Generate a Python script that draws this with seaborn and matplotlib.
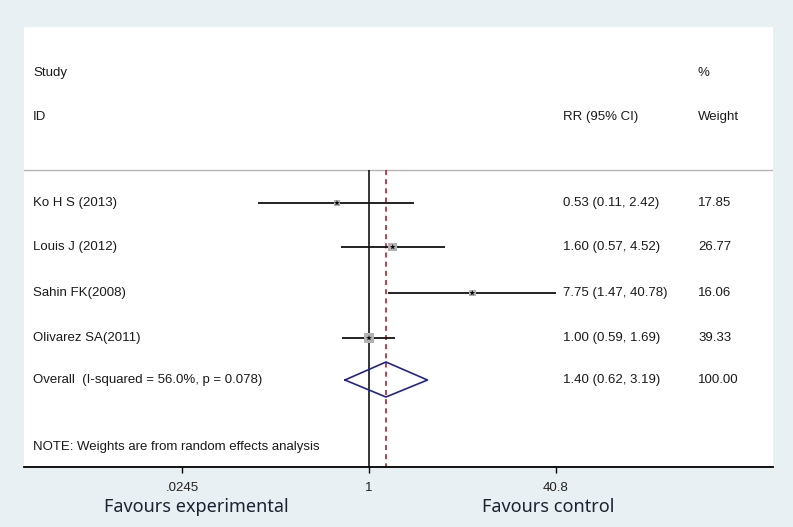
import numpy as np
import matplotlib
matplotlib.use("Agg")
import matplotlib.pyplot as plt
import matplotlib.ticker as mticker
import seaborn as sns

# data
studies = ["Ko H S (2013)", "Louis J (2012)", "Sahin FK(2008)", "Olivarez SA(2011)"]
rr = [0.53, 1.60, 7.75, 1.00]
ci_low = [0.11, 0.57, 1.47, 0.59]
ci_high = [2.42, 4.52, 40.78, 1.69]
weights = [17.85, 26.77, 16.06, 39.33]

overall_label = "Overall  (I-squared = 56.0%, p = 0.078)"
overall_rr = 1.40
overall_low = 0.62
overall_high = 3.19
overall_weight = 100.00

tick_vals = [0.0245, 1, 40.8]
tick_labels = [".0245", "1", "40.8"]

# layout (rows measured from the top of the figure, in pixels)
row_y = [203, 247, 293, 338]
overall_y = 380
note_y = 447
sep_y = 170
axis_y = 467
top_y = 27

sns.set_theme(style="white")
plt.rcParams["font.family"] = ["Liberation Sans", "DejaVu Sans"]

bg = "#e9f0f3"
fig = plt.figure(figsize=(7.93, 5.27), dpi=100, facecolor=bg)
W, H = 793, 527
ax = fig.add_axes([24 / W, (H - axis_y) / H, (773 - 24) / W, (axis_y - top_y) / H])
ax.set_facecolor("white")

px_per_ln = 187 / np.log(40.8)
ax.set_xscale("log")
ax.set_xlim(np.exp((24 - 369) / px_per_ln), np.exp((773 - 369) / px_per_ln))
ax.set_ylim(axis_y, top_y)

for side in ["top", "left", "right"]:
    ax.spines[side].set_visible(False)
ax.spines["bottom"].set_color("black")
ax.spines["bottom"].set_linewidth(1.3)

ax.xaxis.set_major_locator(mticker.FixedLocator(tick_vals))
ax.xaxis.set_major_formatter(mticker.FixedFormatter(tick_labels))
ax.xaxis.set_minor_locator(mticker.NullLocator())
ax.tick_params(axis="x", bottom=True, length=4, width=1, color="black",
               labelsize=9.5, pad=7, labelcolor="#222222")
ax.set_yticks([])

# reference lines
ax.axhline(sep_y, color="#b5b5b5", lw=1)
ax.vlines(1, sep_y, axis_y, color="black", lw=1.1)
ax.vlines(overall_rr, sep_y, axis_y, color="#b2222a", lw=1.2, linestyles=(0, (3, 2.5)))

# study CIs and markers
ax.hlines(row_y, ci_low, ci_high, color="#111111", lw=1.3)
sns.scatterplot(x=rr, y=row_y, marker="s", s=[w * 1.4 for w in weights],
                color="#b3b3b3", edgecolor="none", ax=ax, zorder=3)
sns.scatterplot(x=rr, y=row_y, marker="*", s=18, color="black",
                edgecolor="none", ax=ax, zorder=4)

# pooled diamond
ax.plot([overall_low, overall_rr, overall_high, overall_rr, overall_low],
        [overall_y, overall_y - 18, overall_y, overall_y + 17, overall_y],
        color="#23238e", lw=1.2, zorder=3)

# text columns
tr = ax.get_yaxis_transform()
def colx(px):
    return (px - 24) / (773 - 24)

txt = dict(fontsize=9.5, color="#1a1a1a", va="center", transform=tr)
ax.text(colx(33), 73, "Study", **txt)
ax.text(colx(33), 117, "ID", **txt)
ax.text(colx(563), 117, "RR (95% CI)", **txt)
ax.text(colx(698), 73, "%", **txt)
ax.text(colx(698), 117, "Weight", **txt)

for y, name, r, lo, hi, w in zip(row_y, studies, rr, ci_low, ci_high, weights):
    ax.text(colx(33), y, name, **txt)
    ax.text(colx(563), y, f"{r:.2f} ({lo:.2f}, {hi:.2f})", **txt)
    ax.text(colx(698), y, f"{w:.2f}", **txt)

ax.text(colx(33), overall_y, overall_label, **txt)
ax.text(colx(563), overall_y, f"{overall_rr:.2f} ({overall_low:.2f}, {overall_high:.2f})", **txt)
ax.text(colx(698), overall_y, f"{overall_weight:.2f}", **txt)
ax.text(colx(33), note_y, "NOTE: Weights are from random effects analysis", **txt)

big = dict(fontsize=13, color="#1c2230", ha="center", va="center",
           family=["Noto Sans", "DejaVu Sans"])
fig.text(196 / W, 1 - 507 / H, "Favours experimental", **big)
fig.text(548 / W, 1 - 507 / H, "Favours control", **big)

fig.savefig("out.png", dpi=100, facecolor=bg)
